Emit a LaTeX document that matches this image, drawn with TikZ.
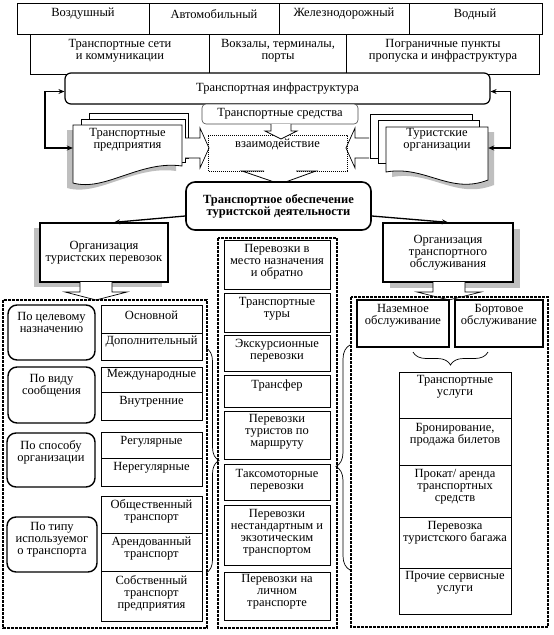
\documentclass[tikz,border=0pt]{standalone}
\usepackage{fontspec}
\setmainfont{Liberation Serif}
\usetikzlibrary{arrows.meta,shadows,decorations.pathreplacing}
\tikzset{
  txt/.style={align=center,inner sep=0pt,font=\fontsize{12.5}{12}\selectfont},
  cell/.style={draw,line width=0.7pt},
  grp/.style={draw,line width=1.4pt,rounded corners=9pt},
  zone/.style={draw,line width=1.3pt,dash pattern=on 2.6pt off 1.4pt},
  fb/.style={line width=1.4pt,{Stealth[length=6pt,width=5pt]}-{Stealth[length=6pt,width=5pt]}},
  conn/.style={line width=1.3pt,-{Stealth[length=6pt,width=5pt]}},
  blockarr/.style={draw,fill=white,line width=0.7pt},
  shade/.style={fill=black!25,draw=none},
  brc/.style={decorate,decoration={brace,amplitude=#1},line width=0.7pt},
}
\begin{document}
\begin{tikzpicture}[x=1pt,y=-1pt]
\useasboundingbox (0,0) rectangle (554,635);
% kinds of transport
\draw[cell] (17,3.5) rectangle (542,34);
\foreach \xd in {149,279,409} \draw[cell] (\xd,3.5) -- (\xd,34);
\node[txt] (air) at (83,14) {Воздушный};
\node[txt] (auto) at (214,14) {Автомобильный};
\node[txt] (rail) at (344,14) {Железнодорожный};
\node[txt] (water) at (475,14) {Водный};
% infrastructure parts
\draw[cell] (30,34) rectangle (539,74);
\foreach \xd in {209.5,346.5} \draw[cell] (\xd,34) -- (\xd,74);
\node[txt] (seti) at (120,51) {Транспортные сети\\и коммуникации};
\node[txt] (vokz) at (278,51) {Вокзалы, терминалы,\\порты};
\node[txt] (pogr) at (443,51) {Пограничные пункты\\пропуска и инфраструктура};
\node[draw,fill=white,line width=1.2pt,rounded corners=6pt,minimum width=425pt,minimum height=31pt,txt] (infra) at (277.5,88.5) {Транспортная инфраструктура};
% left stack of documents
\draw[fill=white,line width=0.8pt] (89,113) rectangle (188,158);
\draw[fill=white,line width=0.8pt] (81,119) rectangle (185,162);
\fill[shade] (67,130) -- (176,130) -- (176,171) .. controls (134,165) and (99,197) .. (67,188) -- cycle;
\draw[fill=white,line width=0.8pt] (73,125) -- (182,125) -- (182,166) .. controls (140,160) and (105,192) .. (73,183) -- cycle;
\node[txt,minimum width=109pt,minimum height=30pt] (tpred) at (127.5,140) {Транспортные\\предприятия};
% right stack of documents
\draw[fill=white,line width=0.8pt] (370,114) rectangle (472,158);
\draw[fill=white,line width=0.8pt] (378,120) rectangle (479,163);
\fill[shade] (392,132) -- (494,132) -- (494,185) .. controls (456,200) and (431,170) .. (392,177) -- cycle;
\draw[fill=white,line width=0.8pt] (386,127) -- (488,127) -- (488,180) .. controls (450,195) and (425,165) .. (386,172) -- cycle;
\node[txt,minimum width=102pt,minimum height=30pt] (tur) at (437,140) {Туристские\\организации};
% feedback lines
\draw[fb] ([yshift=-8pt]tpred.west) -- ++(-28,0) |- ([yshift=-3pt]infra.west);
\draw[fb] ([yshift=-8pt]tur.east) -- ++(22,0) |- ([yshift=-3pt]infra.east);
% means of transport and interaction
\node[draw=black!70,fill=white,line width=0.6pt,rounded corners=4pt,minimum width=156pt,minimum height=20pt,txt] (tsr) at (280,114) {Транспортные средства};
\draw[blockarr] (185,138) -- (200,138) -- (200,128) -- (209,148) -- (200,168) -- (200,158) -- (185,158);
\draw[blockarr] (369,138) -- (355,138) -- (355,128) -- (346,148) -- (355,168) -- (355,158) -- (369,158);
\draw[line width=1pt,dash pattern=on 1pt off 1pt] (264,171) -- (208,171) -- (208,135) -- (347,135) -- (347,171) -- (296,171);
\draw[blockarr] (271,124) -- (271,131) -- (265,131) -- (281,139) -- (297,131) -- (291,131) -- (291,124);
\node[txt] (vz) at (277.5,144) {взаимодействие};
\draw[line width=0.8pt] (264,171) -- (242,171) -- (280,184) -- (316,171) -- (296,171);
% main box
\node[draw,fill=white,line width=1.6pt,rounded corners=9pt,minimum width=185pt,minimum height=48pt,txt,font=\fontsize{12.5}{12}\selectfont\bfseries] (mainb) at (278.5,206) {Транспортное обеспечение\\туристской деятельности};
% two organisation boxes
\node[draw,fill=white,line width=1.3pt,minimum width=128pt,minimum height=59pt,txt,drop shadow={shadow xshift=-6pt,shadow yshift=-5pt,fill=black!25,opacity=1}] (orgt) at (104,252.5) {Организация\\туристских перевозок};
\node[draw,fill=white,line width=1.3pt,minimum width=130pt,minimum height=59pt,txt,drop shadow={shadow xshift=7pt,shadow yshift=-6pt,fill=black!25,opacity=1}] (orgs) at (448,252.5) {Организация\\транспортного\\обслуживания};
\draw[conn] ([yshift=-10pt]mainb.west) -- ([xshift=10pt]orgt.north);
\draw[conn] ([yshift=-10pt]mainb.east) -- (orgs.north);
\draw[blockarr] (80,282) -- (80,292) -- (65,292) -- (96,300) -- (127,292) -- (112,292) -- (112,282);
\draw[blockarr] (433,282) -- (433,292) -- (417,292) -- (449,300) -- (481,292) -- (465,292) -- (465,282);
% zones
\draw[zone] (3,300) rectangle (207,628);
\draw[zone] (218,238) rectangle (337,628);
\draw[zone] (351,297) rectangle (548,627);
% classification of tourist transportation
\draw[grp] (8,305) rectangle (95,360);
\draw[grp] (8,367) rectangle (95,423);
\draw[grp] (7,433) rectangle (95,487);
\draw[grp] (7,517) rectangle (97,572);
\node[txt] (cel) at (51.5,322.5) {По целевому\\назначению};
\node[txt] (vid) at (51.5,386) {По виду\\сообщения};
\node[txt] (spos) at (51,452.5) {По способу\\организации};
\node[txt] (tip) at (52,540) {По типу\\используемог\\о транспорта};
\draw[cell] (101,305) rectangle (202,333);
\draw[cell] (101,333) rectangle (202,360);
\draw[cell] (101,367) rectangle (202,392);
\draw[cell] (101,392) rectangle (202,420);
\draw[cell] (101,432) rectangle (202,458);
\draw[cell] (101,458) rectangle (202,486);
\draw[cell] (101,496) rectangle (202,533);
\draw[cell] (101,533) rectangle (202,571);
\draw[cell] (101,571) rectangle (202,621);
\node[txt] (osn) at (151.5,315) {Основной};
\node[txt] (dop) at (151.5,342) {Дополнительный};
\node[txt] (mezh) at (151.5,375) {Международные};
\node[txt] (vnut) at (151.5,401.5) {Внутренние};
\node[txt] (reg) at (151.5,442) {Регулярные};
\node[txt] (nereg) at (151.5,468) {Нерегулярные};
\node[txt] (obsch) at (151.5,511) {Общественный\\транспорт};
\node[txt] (arend) at (151.5,548.5) {Арендованный\\транспорт};
\node[txt] (sobst) at (151.5,593.5) {Собственный\\транспорт\\предприятия};
% kinds of transportation
\draw[cell] (224,240) rectangle (330,289);
\draw[cell] (224,293) rectangle (330,332);
\draw[cell] (224,335) rectangle (330,371);
\draw[cell] (224,375) rectangle (330,407);
\draw[cell] (224,411) rectangle (330,459);
\draw[cell] (224,464) rectangle (330,500);
\draw[cell] (224,505) rectangle (330,565);
\draw[cell] (224,572) rectangle (330,620);
\node[txt] (mesto) at (277,262) {Перевозки в\\место назначения\\и обратно};
\node[txt] (tury) at (277,309) {Транспортные\\туры};
\node[txt] (ekskurs) at (277,351) {Экскурсионные\\перевозки};
\node[txt] (transf) at (277,385) {Трансфер};
\node[txt] (marsh) at (277,431.5) {Перевозки\\туристов по\\маршруту};
\node[txt] (taksi) at (277,481) {Таксомоторные\\перевозки};
\node[txt] (ekzot) at (277,532.5) {Перевозки\\нестандартным и\\экзотическим\\транспортом};
\node[txt] (lichn) at (277,591.5) {Перевозки на\\личном\\транспорте};
% braces
\draw[brc=13pt] (206,348) -- (206,573);
\draw[brc=14pt,decoration={aspect=0.46}] (350,570) -- (350,345);
\draw[brc=13pt] (488,352) -- (413,352);
% transport service
\draw[line width=1.4pt] (357,300) rectangle (449,347);
\draw[line width=1.4pt] (455,300) rectangle (543,347);
\node[txt] (nazem) at (403,316) {Наземное\\обслуживание};
\node[txt] (bort) at (499,316) {Бортовое\\обслуживание};
\draw[cell] (399,372) rectangle (511,418);
\draw[cell] (399,418) rectangle (511,465);
\draw[cell] (399,465) rectangle (511,517);
\draw[cell] (399,517) rectangle (511,568);
\draw[cell] (399,568) rectangle (511,614);
\node[txt] (uslugi) at (455,386.5) {Транспортные\\услуги};
\node[txt] (bron) at (455,435) {Бронирование,\\продажа билетов};
\node[txt] (prokat) at (455,487) {Прокат/ аренда\\транспортных\\средств};
\node[txt] (bagazh) at (455,532.5) {Перевозка\\туристского багажа};
\node[txt] (prochie) at (455,582.5) {Прочие сервисные\\услуги};
\end{tikzpicture}
\end{document}
